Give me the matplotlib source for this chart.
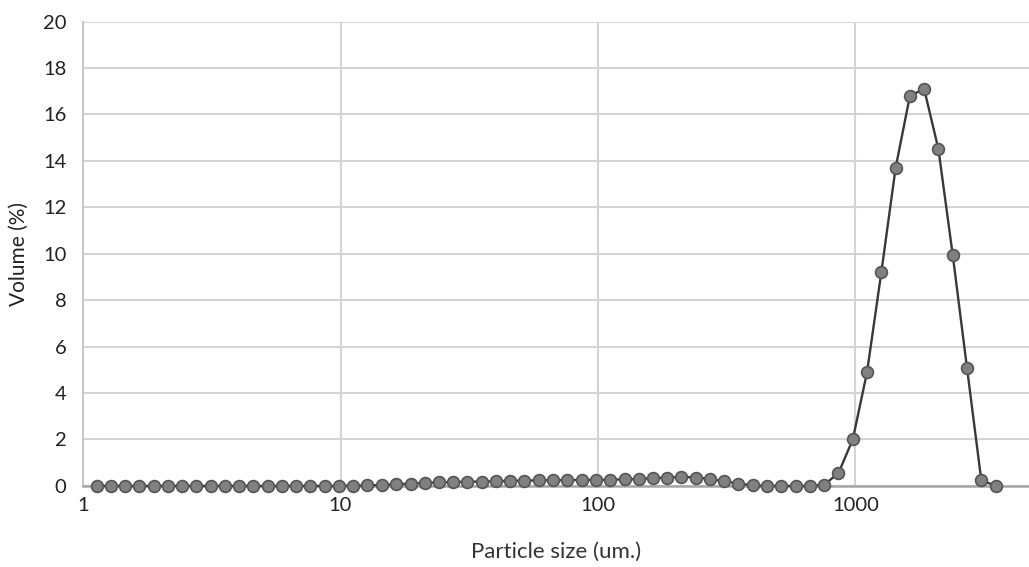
import matplotlib.pyplot as plt
from matplotlib.ticker import FixedLocator, NullLocator

plt.rcParams['font.family'] = ['Lato', 'DejaVu Sans']

# particle size classes (um), small to large
size_um = [1.13, 1.28, 1.45, 1.65, 1.88, 2.13, 2.42, 2.75, 3.13, 3.55,
           4.03, 4.58, 5.21, 5.92, 6.72, 7.64, 8.68, 9.86, 11.2, 12.7,
           14.5, 16.4, 18.7, 21.2, 24.1, 27.4, 31.1, 35.3, 40.1, 45.6,
           51.8, 58.9, 66.9, 76.0, 86.3, 98.1, 111, 127, 144, 163,
           186, 211, 240, 272, 309, 351, 399, 454, 515, 586,
           665, 756, 859, 976, 1109, 1260, 1432, 1627, 1848, 2100,
           2386, 2710, 3080, 3500]

volume_pct = [0, 0, 0, 0, 0, 0, 0, 0, 0, 0,
              0, 0, 0, 0, 0, 0, 0, 0, 0.01, 0.02,
              0.04, 0.07, 0.10, 0.13, 0.15, 0.17, 0.18, 0.19, 0.20, 0.22,
              0.23, 0.24, 0.25, 0.25, 0.26, 0.26, 0.27, 0.28, 0.30, 0.33,
              0.36, 0.39, 0.36, 0.30, 0.20, 0.10, 0.03, 0, 0, 0,
              0, 0.05, 0.55, 2.0, 4.9, 9.2, 13.7, 16.8, 17.1, 14.5,
              9.95, 5.1, 0.25, 0.0]

x_ticks = [1, 10, 100, 1000]
y_ticks = list(range(0, 21, 2))

fig = plt.figure(figsize=(10.29, 5.67), dpi=100)
ax = fig.add_axes([0.0807, 0.143, 0.9193, 0.819])

ax.plot(size_um, volume_pct, color='#383838', linewidth=1.7, marker='o',
        markersize=8.5, markerfacecolor='#808080', markeredgecolor='#555555',
        markeredgewidth=1.2, zorder=3, clip_on=False)

ax.set_xscale('log')
ax.set_xlim(1, 4720)
ax.set_ylim(0, 20)
ax.xaxis.set_major_locator(FixedLocator(x_ticks))
ax.xaxis.set_minor_locator(NullLocator())
ax.set_xticklabels([str(t) for t in x_ticks])
ax.set_yticks(y_ticks)

ax.grid(True, color='#d4d4d4', linewidth=1.5)
ax.set_axisbelow(True)
for side in ['top', 'right']:
    ax.spines[side].set_visible(False)
ax.spines['left'].set_color('#c8c8c8')
ax.spines['left'].set_linewidth(1.5)
ax.spines['bottom'].set_color('#a6a6a6')
ax.spines['bottom'].set_linewidth(1.8)
ax.tick_params(length=0, labelsize=14.5, colors='#222222')
ax.tick_params(axis='x', pad=8)
ax.tick_params(axis='y', pad=12)

ax.set_xlabel('Particle size (um.)', fontsize=16, color='#333333', labelpad=20)
ax.set_ylabel('Volume (%)', fontsize=15, color='#222222', labelpad=10)

fig.savefig('out.png', dpi=100)
